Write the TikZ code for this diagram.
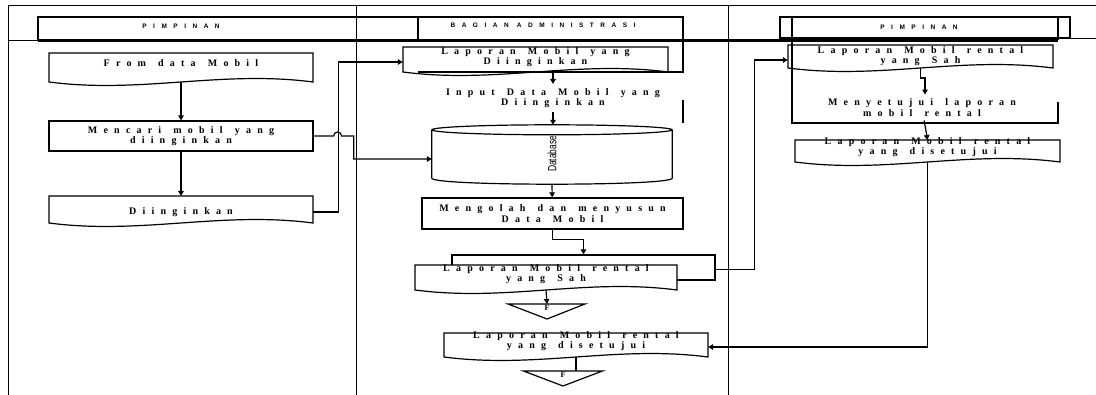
\documentclass[tikz,border=0pt]{standalone}
\usepackage{fontspec}
\usepackage{graphicx}
\usetikzlibrary{arrows.meta}
\usetikzlibrary{backgrounds}

\newfontfamily\boxfont[LetterSpace=62, WordSpace=1.4]{Liberation Serif}
\newfontfamily\lanefont[LetterSpace=100]{Liberation Sans}
\newfontfamily\dbfont{Liberation Sans}

% document symbol: node, half width, top above centre, corners below centre
\newcommand{\docshape}[4]{%
  \begin{pgfonlayer}{background}
    \draw[line width=1.2pt, fill=white] ([xshift=-#2pt, yshift=#3pt]#1.center) -- ([xshift=-#2pt, yshift=-#4pt]#1.center)
      .. controls +(92,12) and +(-92,-12) .. ([xshift=#2pt, yshift=-#4pt]#1.center)
      -- ([xshift=#2pt, yshift=#3pt]#1.center) -- cycle;
  \end{pgfonlayer}
  \coordinate (#1-top) at ([yshift=#3pt]#1.center);
  \coordinate (#1-bot) at ([yshift=-#4pt]#1.center);}

\begin{document}
\begin{tikzpicture}[x=1pt, y=-1pt,
    txt/.style={font=\boxfont\bfseries\fontsize{10}{10.5}\selectfont, align=center},
    box/.style={txt, draw, line width=1.3pt, inner sep=0pt},
    doc/.style={txt, inner sep=0pt},
    flow/.style={line width=1.2pt, -{Triangle[length=5pt, width=5.5pt]}},
    frame/.style={line width=1pt},
    lane/.style={font=\lanefont\bfseries\fontsize{6.5}{7}\selectfont},
    offpage/.style={font=\boxfont\bfseries\fontsize{8}{8}\selectfont, inner sep=1.5pt, anchor=north}]
    \useasboundingbox (0,0) rectangle (1096,395);

    % swimlanes
    \draw[frame] (8,395) -- (8,6) -- (1096,6);
    \draw[frame] (356,6) -- (356,395);
    \draw[frame] (728,6) -- (728,395);
    \draw[frame] (8,41) -- (38,41);
    \draw[line width=3pt] (38,41) -- (1058,41);
    \draw[frame] (1058,39) -- (1096,39);
    \draw[line width=1.3pt] (38,41) -- (38,17) -- (683,17) -- (683,72) -- (418,72);
    \draw[line width=1.3pt] (418,17) -- (418,41);
    \draw[line width=1.3pt] (683,100) -- (683,123);
    \draw[line width=1.3pt] (780,17) rectangle (1070,38);
    \draw[line width=1.3pt] (1058,40) -- (1058,17) -- (792,17) -- (792,123) -- (1058,123) -- (1058,102);

    \node[lane] (lane1) at (181,26) {PIMPINAN};
    \node[lane] (lane2) at (543,25) {BAGIAN ADMINISTRASI};
    \node[lane] (lane3) at (919,27) {PIMPINAN};

    % pimpinan
    \node[doc, minimum width=264pt] (fromdoc) at (181,63) {From data Mobil};
    \docshape{fromdoc}{132}{10}{19}
    \node[box, minimum width=264pt, minimum height=30pt] (mencari) at (181,136) {Mencari mobil yang\\diinginkan};
    \node[doc, minimum width=264pt] (ding) at (181,212) {Diinginkan};
    \docshape{ding}{132}{16}{11}

    % bagian administrasi
    \node[doc, minimum width=265pt] (lap1) at (535.5,57) {Laporan Mobil yang\\Diinginkan};
    \docshape{lap1}{132.5}{10}{15}
    \node[txt, inner sep=4pt] (input) at (553,98) {Input Data Mobil yang\\Diinginkan};
    \node[minimum width=240pt, minimum height=48pt, inner sep=0pt] (db) at (552,154)
        {\rotatebox{90}{\scalebox{0.7}[1]{\dbfont\fontsize{12}{12}\selectfont Database}}};
    \draw[line width=1.2pt] (db.north) ellipse [x radius=120, y radius=5];
    \draw[line width=1.2pt] (db.north west) -- (db.south west) .. controls +(0,8) and +(0,8) .. (db.south east) -- (db.north east);
    \coordinate (db-top) at ([yshift=5pt]db.north);
    \coordinate (db-bot) at ([yshift=-6pt]db.south);
    \node[box, minimum width=261pt, minimum height=31pt] (olah) at (552.5,213.5) {Mengolah dan menyusun\\Data Mobil};
    \begin{pgfonlayer}{background}
      \node[draw, line width=1.2pt, minimum width=263pt, minimum height=25pt] (sahback) at (583.5,267.5) {};
    \end{pgfonlayer}
    \node[doc, minimum width=262pt] (sah1) at (546,274) {Laporan Mobil rental\\yang Sah};
    \docshape{sah1}{131}{9}{16}
    \node[offpage] (off1) at (547,304) {F};
    \draw[line width=1.2pt] ([xshift=-39pt]off1.north) -- ([xshift=38pt]off1.north) -- ([yshift=-15pt]off1.north) -- cycle;
    \node[doc, minimum width=264pt] (setuju1) at (576,341) {Laporan Mobil rental\\yang disetujui};
    \docshape{setuju1}{132}{8}{16}
    \node[offpage] (off2) at (563,371) {F};
    \draw[line width=1.2pt] ([xshift=-39.5pt]off2.north) -- ([xshift=39.5pt]off2.north) -- ([yshift=-15pt]off2.north) -- cycle;

    % pimpinan
    \node[doc, minimum width=265pt] (sah2) at (920.5,56) {Laporan Mobil rental\\yang Sah};
    \docshape{sah2}{132.5}{11}{12}
    \node[txt, inner sep=4pt] (approve) at (922,107.5) {Menyetujui laporan\\mobil rental};
    \node[doc, minimum width=265pt] (setuju2) at (927.5,147) {Laporan Mobil rental\\yang disetujui};
    \docshape{setuju2}{132.5}{7}{15}

    % connectors
    \draw[flow] (fromdoc-bot) -- (mencari);
    \draw[flow] (mencari) -- (ding-top);
    \draw[flow] (ding.east) -- ++(25,0) |- ([yshift=-5pt]lap1.west);
    \draw[flow] (mencari.east) -- ++(20,0) arc[start angle=180, end angle=360, radius=4] -- ++(12,0) |- ([yshift=-5pt]db.west);
    \draw[flow] (input.north |- lap1-bot) -- (input.north);
    \draw[flow] (input) -- (input |- db-top);
    \draw[flow] (db-bot) -- (olah);
    \draw[flow] (olah.south) -- ++(0,10) -| (sahback.north);
    \draw[flow] (sah1-bot) -- (off1.north);
    \draw[flow] ([yshift=-2pt]sahback.east) -- ++(39,0) |- ([yshift=-4pt]sah2.west);
    \draw[flow] (sah2-bot) -- ++(0,10) -| ([xshift=3pt]approve.north);
    \draw[flow] (approve) -- (setuju2-top);
    \draw[flow] (setuju2-bot) |- ([yshift=-6pt]setuju1.east);
    \draw[line width=1.2pt] (setuju1-bot) -- (setuju1-bot |- off2.north);
\end{tikzpicture}
\end{document}
